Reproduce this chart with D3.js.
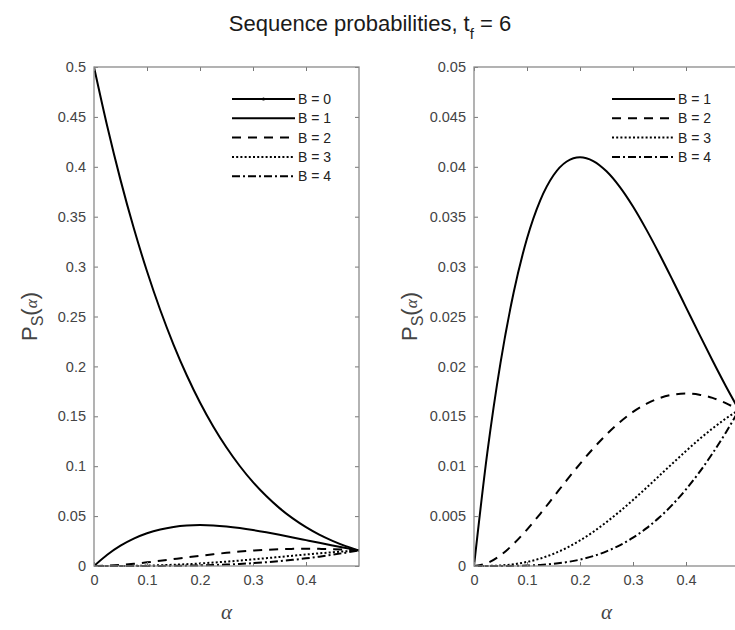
<!DOCTYPE html>
<html>
<head>
<meta charset="utf-8">
<script src="https://cdn.jsdelivr.net/npm/d3@7"></script>
<style>
  body { margin: 0; background: #fff; }
  svg { display: block; font-family: "Liberation Sans", Arial, sans-serif; }
</style>
</head>
<body>
<div id="hook"></div>
<script>
// alpha values (x)
var alpha = [0, 0.025, 0.05, 0.075, 0.1, 0.125, 0.15, 0.175, 0.2, 0.225, 0.25,
             0.275, 0.3, 0.325, 0.35, 0.375, 0.4, 0.425, 0.45, 0.475, 0.5];
// P_S(alpha) for each B
var pB0 = [0.5, 0.4406, 0.3869, 0.3386, 0.2953, 0.2565, 0.2219, 0.1911, 0.1638, 0.1398, 0.1187,
           0.1002, 0.0840, 0.0701, 0.0580, 0.0477, 0.0389, 0.0314, 0.0252, 0.0199, 0.0156];
var pB1 = [0, 0.01130, 0.02036, 0.02745, 0.03281, 0.03664, 0.03915, 0.04053, 0.04096, 0.04058, 0.03955,
           0.03799, 0.03602, 0.03373, 0.03124, 0.02861, 0.02592, 0.02323, 0.02059, 0.01804, 0.01563];
var pB2 = [0, 0.00029, 0.00107, 0.00223, 0.00365, 0.00523, 0.00691, 0.00860, 0.01024, 0.01178, 0.01318,
           0.01441, 0.01544, 0.01624, 0.01682, 0.01717, 0.01728, 0.01717, 0.01685, 0.01632, 0.01563];
var pB3 = [0, 0.000007, 0.000056, 0.00018, 0.00041, 0.00075, 0.00122, 0.00182, 0.00256, 0.00342, 0.00440,
           0.00547, 0.00662, 0.00782, 0.00906, 0.01030, 0.01152, 0.01269, 0.01378, 0.01477, 0.01563];
var pB4 = [0, 0.0000002, 0.000003, 0.000015, 0.000045, 0.00011, 0.00022, 0.00039, 0.00064, 0.00099, 0.00147,
           0.00207, 0.00284, 0.00377, 0.00488, 0.00618, 0.00768, 0.00938, 0.01128, 0.01336, 0.01563];
var xTicks = [0, 0.1, 0.2, 0.3, 0.4];
var yTicksLeft = [0, 0.05, 0.1, 0.15, 0.2, 0.25, 0.3, 0.35, 0.4, 0.45, 0.5];
var yTicksRight = [0, 0.005, 0.01, 0.015, 0.02, 0.025, 0.03, 0.035, 0.04, 0.045, 0.05];

var styles = {
  "B = 0": "none",
  "B = 1": "none",
  "B = 2": "9,7",
  "B = 3": "2,2.2",
  "B = 4": "8,3,2,3"
};

var W = 735, H = 630;
var svg = d3.select("#hook").append("svg")
    .attr("width", W)
    .attr("height", H);

// title
var title = svg.append("text")
    .attr("x", 370).attr("y", 31)
    .attr("text-anchor", "middle")
    .attr("font-size", 22)
    .attr("fill", "#1a1a1a");
title.append("tspan").text("Sequence probabilities, t");
title.append("tspan").attr("font-size", 15).attr("dy", 8).text("f");
title.append("tspan").attr("dy", -8).text(" = 6");

function panel(x0, yMax, yTicks, series, id) {
  var top = 67, bottom = 566, width = 265;
  var x = d3.scaleLinear().domain([0, 0.5]).range([x0, x0 + width]);
  var y = d3.scaleLinear().domain([0, yMax]).range([bottom, top]);
  var g = svg.append("g");

  g.append("clipPath").attr("id", "clip" + id)
    .append("rect").attr("x", x0).attr("y", top - 1)
    .attr("width", width).attr("height", bottom - top + 2);

  var line = d3.line()
      .x(function(d, i) { return x(alpha[i]); })
      .y(function(d) { return y(d); })
      .curve(d3.curveMonotoneX);

  g.append("g").attr("clip-path", "url(#clip" + id + ")")
    .selectAll("path")
    .data(series)
    .enter()
      .append("path")
        .attr("d", function(s) { return line(s.values); })
        .attr("fill", "none")
        .attr("stroke", "#000")
        .attr("stroke-width", 2)
        .attr("stroke-dasharray", function(s) { return styles[s.name]; });

  // axes (ticks inward, mirrored)
  var fmt = function(d) { return String(+d.toFixed(4)); };
  var ax = [
    { a: d3.axisBottom(x).tickValues(xTicks).tickSize(-4).tickPadding(9).tickFormat(fmt), t: "translate(0," + bottom + ")" },
    { a: d3.axisTop(x).tickValues(xTicks).tickSize(-4).tickFormat(""), t: "translate(0," + top + ")" },
    { a: d3.axisLeft(y).tickValues(yTicks).tickSize(-4).tickPadding(8).tickFormat(fmt), t: "translate(" + x0 + ",0)" },
    { a: d3.axisRight(y).tickValues(yTicks).tickSize(-4).tickFormat(""), t: "translate(" + (x0 + width) + ",0)" }
  ];
  ax.forEach(function(o) {
    var s = g.append("g").attr("transform", o.t).call(o.a.tickSizeOuter(0));
    s.select(".domain").remove();
    s.selectAll("line").attr("stroke", "#777").attr("stroke-width", 1);
    s.selectAll("text").attr("font-size", 14.5).attr("fill", "#444")
      .attr("font-family", "'Liberation Sans', Arial, sans-serif");
  });

  g.append("rect")
    .attr("x", x0).attr("y", top)
    .attr("width", width).attr("height", bottom - top)
    .attr("fill", "none").attr("stroke", "#8a8a8a").attr("stroke-width", 1.3);

  // x label
  g.append("text")
    .attr("x", x0 + width / 2).attr("y", 619)
    .attr("text-anchor", "middle")
    .attr("font-family", "'Liberation Serif', serif")
    .attr("font-style", "italic")
    .attr("font-size", 21).attr("fill", "#444")
    .text("α");

  // y label
  var yl = g.append("text")
    .attr("transform", "translate(" + (x0 - 57) + "," + ((top + bottom) / 2) + ") rotate(-90)")
    .attr("text-anchor", "middle")
    .attr("font-size", 22).attr("fill", "#444");
  yl.append("tspan").text("P");
  yl.append("tspan").attr("font-size", 16).attr("dy", 6).text("S");
  yl.append("tspan").attr("dy", -6).text("(");
  yl.append("tspan").attr("font-family", "'Liberation Serif', serif")
    .attr("font-style", "italic").attr("font-size", 17).text("α");
  yl.append("tspan").text(")");

  // legend
  var lx = x0 + width - 127;
  var leg = g.selectAll(".leg")
    .data(series)
    .enter()
      .append("g")
        .attr("transform", function(d, i) { return "translate(" + lx + "," + (99 + i * 19.3) + ")"; });
  leg.append("line")
    .attr("x1", 0).attr("x2", 63)
    .attr("stroke", "#000").attr("stroke-width", 2)
    .attr("stroke-dasharray", function(d) { return styles[d.name]; });
  leg.filter(function(d) { return d.name === "B = 0"; })
    .append("circle").attr("cx", 31.5).attr("cy", 0).attr("r", 1.6).attr("fill", "#000");
  leg.append("text")
    .attr("x", 66).attr("y", 5)
    .attr("font-size", 14).attr("fill", "#222")
    .text(function(d) { return d.name; });
}

panel(94, 0.5, yTicksLeft, [
  { name: "B = 0", values: pB0 },
  { name: "B = 1", values: pB1 },
  { name: "B = 2", values: pB2 },
  { name: "B = 3", values: pB3 },
  { name: "B = 4", values: pB4 }
], "L");

panel(474, 0.05, yTicksRight, [
  { name: "B = 1", values: pB1 },
  { name: "B = 2", values: pB2 },
  { name: "B = 3", values: pB3 },
  { name: "B = 4", values: pB4 }
], "R");
</script>
</body>
</html>
